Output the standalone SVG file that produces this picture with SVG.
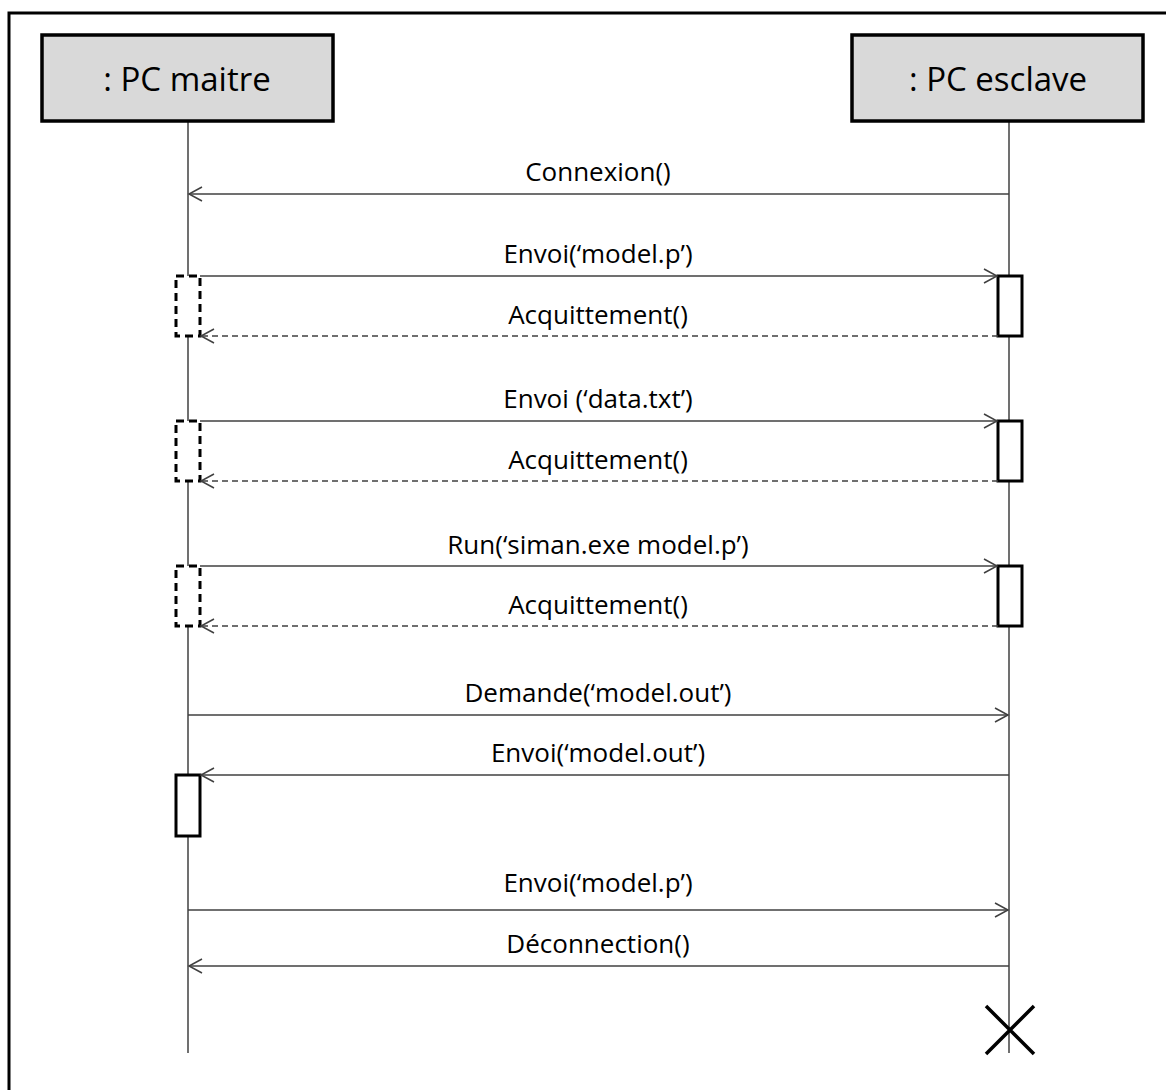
<svg xmlns="http://www.w3.org/2000/svg" width="1166" height="1090" viewBox="0 0 1166 1090">
<style>
.hdr{fill:#d9d9d9;stroke:#000;stroke-width:3.5}
.ht{font-family:"Open Sans",sans-serif;font-size:33px;fill:#000;text-anchor:middle}
.life{stroke:#404040;stroke-width:1.5;fill:none}
.msg{stroke:#404040;stroke-width:1.5;fill:none}
.ret{stroke:#404040;stroke-width:1.5;fill:none;stroke-dasharray:6,4}
.lbl{font-family:"Open Sans",sans-serif;font-size:26px;fill:#000;text-anchor:middle}
.act{fill:#fff;stroke:#000;stroke-width:3}
.actd{fill:#fff;stroke:#000;stroke-width:3;stroke-dasharray:8,5}
</style>
<defs>
<marker id="open" markerWidth="16" markerHeight="16" refX="14" refY="8" orient="auto" markerUnits="userSpaceOnUse">
<path d="M1,1 L14,8 L1,15" fill="none" stroke="#404040" stroke-width="1.5"/>
</marker>
</defs>
<rect width="1166" height="1090" fill="#fff"/>
<path d="M9,1090 V13 H1166" fill="none" stroke="#000" stroke-width="3"/>

<g id="lifelines">
<line class="life" x1="188" y1="121" x2="188" y2="1053"/>
<line class="life" x1="1009" y1="121" x2="1009" y2="1053"/>
</g>

<g id="pc-maitre">
<rect class="hdr" x="42" y="35" width="291" height="86"/>
<text class="ht" x="187" y="91">: PC maitre</text>
</g>
<g id="pc-esclave">
<rect class="hdr" x="852" y="35" width="291" height="86"/>
<text class="ht" x="998" y="91">: PC esclave</text>
</g>

<g id="activations">
<rect class="actd" x="176" y="276" width="24" height="60"/>
<rect class="act" x="998" y="276" width="24" height="60"/>
<rect class="actd" x="176" y="421" width="24" height="60"/>
<rect class="act" x="998" y="421" width="24" height="60"/>
<rect class="actd" x="176" y="566" width="24" height="60"/>
<rect class="act" x="998" y="566" width="24" height="60"/>
<rect class="act" x="176" y="775" width="24" height="61"/>
</g>

<g id="connectors">
<line class="msg" x1="1009" y1="194" x2="189" y2="194" marker-end="url(#open)"/>
<line class="msg" x1="200" y1="276" x2="997" y2="276" marker-end="url(#open)"/>
<line class="ret" x1="998" y1="336" x2="201" y2="336" marker-end="url(#open)"/>
<line class="msg" x1="200" y1="421" x2="997" y2="421" marker-end="url(#open)"/>
<line class="ret" x1="998" y1="481" x2="201" y2="481" marker-end="url(#open)"/>
<line class="msg" x1="200" y1="566" x2="997" y2="566" marker-end="url(#open)"/>
<line class="ret" x1="998" y1="626" x2="201" y2="626" marker-end="url(#open)"/>
<line class="msg" x1="188" y1="715" x2="1008" y2="715" marker-end="url(#open)"/>
<line class="msg" x1="1009" y1="775" x2="201" y2="775" marker-end="url(#open)"/>
<line class="msg" x1="188" y1="910" x2="1008" y2="910" marker-end="url(#open)"/>
<line class="msg" x1="1009" y1="966" x2="189" y2="966" marker-end="url(#open)"/>
</g>

<g id="labels">
<text class="lbl" x="598" y="181">Connexion()</text>
<text class="lbl" x="598" y="263">Envoi(‘model.p’)</text>
<text class="lbl" x="598" y="324">Acquittement()</text>
<text class="lbl" x="598" y="408">Envoi (‘data.txt’)</text>
<text class="lbl" x="598" y="469">Acquittement()</text>
<text class="lbl" x="598" y="554">Run(‘siman.exe model.p’)</text>
<text class="lbl" x="598" y="614">Acquittement()</text>
<text class="lbl" x="598" y="702">Demande(‘model.out’)</text>
<text class="lbl" x="598" y="762">Envoi(‘model.out’)</text>
<text class="lbl" x="598" y="892">Envoi(‘model.p’)</text>
<text class="lbl" x="598" y="953">Déconnection()</text>
</g>

<g id="destroy">
<path d="M986,1006 L1034,1054 M1034,1006 L986,1054" stroke="#000" stroke-width="3.5" fill="none"/>
</g>
</svg>
